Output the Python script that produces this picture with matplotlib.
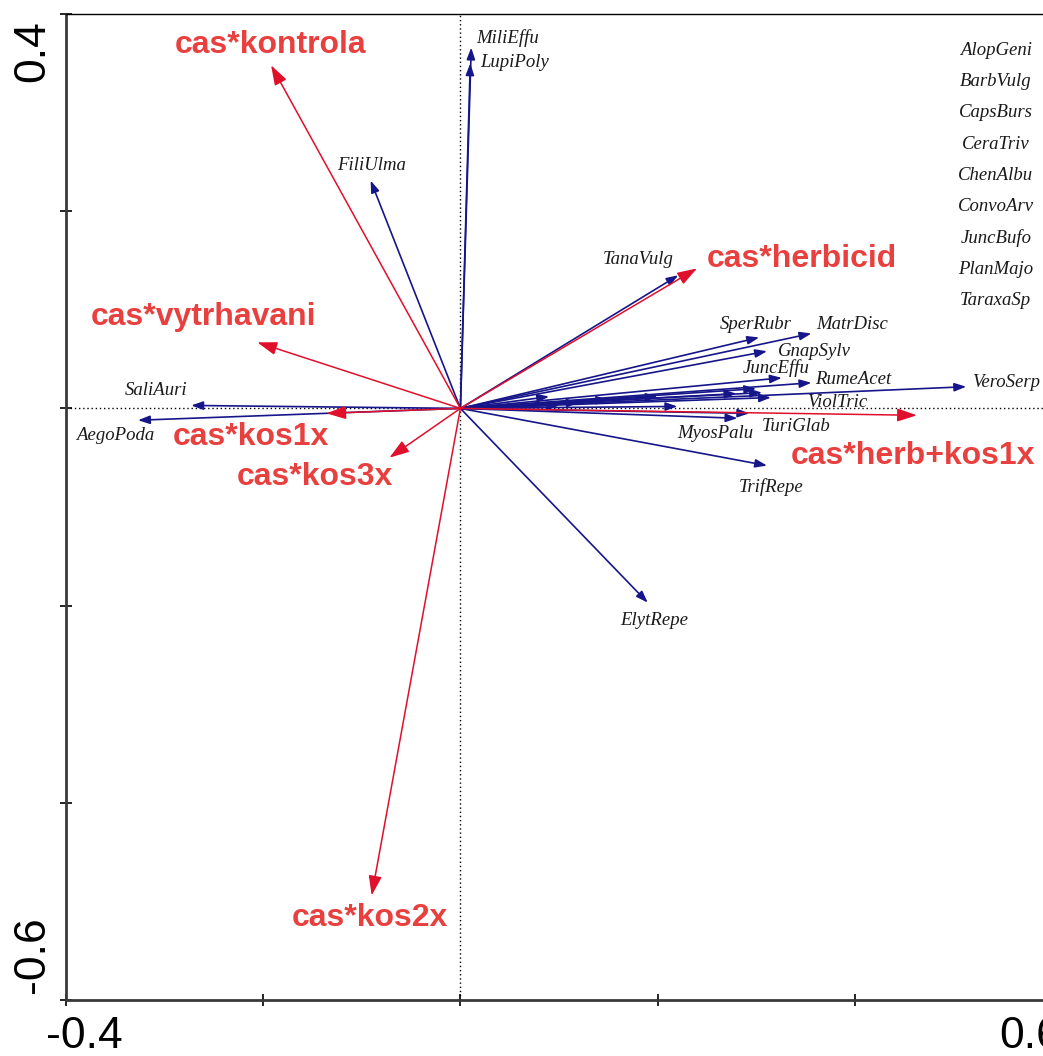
import matplotlib.pyplot as plt
from matplotlib.transforms import ScaledTranslation

plt.rcParams['axes.unicode_minus'] = False

# species arrows (tips)
species = ['MiliEffu', 'LupiPoly', 'FiliUlma', 'TanaVulg', 'SperRubr', 'MatrDisc',
           'GnapSylv', 'JuncEffu', 'RumeAcet', 'VeroSerp', 'ViolTric', 'MyosPalu',
           'TuriGlab', 'TrifRepe', 'ElytRepe', 'SaliAuri', 'AegoPoda']
sp_x = [0.011, 0.010, -0.091, 0.221, 0.303, 0.356, 0.311, 0.326, 0.356, 0.513,
        0.315, 0.281, 0.293, 0.311, 0.190, -0.273, -0.327]
sp_y = [0.366, 0.350, 0.231, 0.135, 0.072, 0.076, 0.058, 0.031, 0.026, 0.022,
        0.011, -0.010, -0.005, -0.058, -0.197, 0.003, -0.012]

# species with short arrows near the axis, named in the list at top right
crowded = ['AlopGeni', 'BarbVulg', 'CapsBurs', 'CeraTriv', 'ChenAlbu',
           'ConvoArv', 'JuncBufo', 'PlanMajo', 'TaraxaSp']
cr_x = [0.306, 0.120, 0.200, 0.100, 0.300, 0.150, 0.090, 0.280, 0.220]
cr_y = [0.016, 0.006, 0.012, 0.003, 0.020, 0.009, 0.012, 0.015, 0.002]

# environmental variables
env = ['cas*kontrola', 'cas*herbicid', 'cas*vytrhavani', 'cas*kos1x',
       'cas*kos3x', 'cas*kos2x', 'cas*herb+kos1x']
env_x = [-0.192, 0.240, -0.206, -0.136, -0.072, -0.090, 0.463]
env_y = [0.348, 0.142, 0.067, -0.005, -0.050, -0.494, -0.007]

# label placement (layout)
sp_lab = {'MiliEffu': (0.048, 0.376), 'LupiPoly': (0.055, 0.351),
          'FiliUlma': (-0.090, 0.246), 'TanaVulg': (0.180, 0.151),
          'SperRubr': (0.300, 0.085), 'MatrDisc': (0.397, 0.085),
          'GnapSylv': (0.359, 0.058), 'JuncEffu': (0.320, 0.041),
          'RumeAcet': (0.398, 0.029), 'VeroSerp': (0.553, 0.026),
          'ViolTric': (0.382, 0.006), 'MyosPalu': (0.258, -0.025),
          'TuriGlab': (0.341, -0.018), 'TrifRepe': (0.315, -0.080),
          'ElytRepe': (0.197, -0.215), 'SaliAuri': (-0.309, 0.018),
          'AegoPoda': (-0.350, -0.027)}
env_lab = {'cas*kontrola': (-0.193, 0.369), 'cas*herbicid': (0.346, 0.152),
           'cas*vytrhavani': (-0.261, 0.093), 'cas*kos1x': (-0.213, -0.029),
           'cas*kos3x': (-0.148, -0.070), 'cas*kos2x': (-0.092, -0.517),
           'cas*herb+kos1x': (0.459, -0.048)}

navy = '#16168a'
red_arrow = '#e0102c'
red_text = '#e8403f'

fig = plt.figure(figsize=(10.43, 10.56), dpi=100)
ax = fig.add_axes([66/1043, 56/1056, 986/1043, 986/1056])
ax.set_xlim(-0.4, 0.6)
ax.set_ylim(-0.6, 0.4)

ax.axhline(0, color='black', ls=(0, (1, 2)), lw=1, zorder=1)
ax.axvline(0, color='black', ls=(0, (1, 2)), lw=1, zorder=1)

blue_style = '-|>,head_length=0.7,head_width=0.25'
for x, y in zip(sp_x + cr_x, sp_y + cr_y):
    ax.annotate('', xy=(x, y), xytext=(0, 0),
                arrowprops=dict(arrowstyle=blue_style, color=navy, lw=1.2,
                                mutation_scale=10, shrinkA=0, shrinkB=0), zorder=2)

for name in species:
    lx, ly = sp_lab[name]
    ax.text(lx, ly, name, fontsize=13.5, family='Liberation Serif', style='italic',
            color='#1a1a1a', ha='center', va='center')

for i, name in enumerate(crowded):
    ax.text(0.543, 0.363 - i * 0.0317, name, fontsize=13.5, family='Liberation Serif',
            style='italic', color='#1a1a1a', ha='center', va='center')

red_style = '-|>,head_length=0.6,head_width=0.2'
for x, y in zip(env_x, env_y):
    ax.annotate('', xy=(x, y), xytext=(0, 0),
                arrowprops=dict(arrowstyle=red_style, color=red_arrow, lw=1.1,
                                mutation_scale=20, shrinkA=0, shrinkB=0), zorder=3)

for name in env:
    lx, ly = env_lab[name]
    ax.text(lx, ly, name, fontsize=23, family='Liberation Sans', weight='bold',
            color=red_text, ha='center', va='center')

# axes frame
for s in ['left', 'bottom']:
    ax.spines[s].set_linewidth(2)
    ax.spines[s].set_color('#3a3a3a')
ax.spines['top'].set_linewidth(1)

ax.set_xticks([-0.4, -0.2, 0, 0.2, 0.4, 0.6])
ax.set_xticklabels(['-0.4', '', '', '', '', '0.6'])
ax.set_yticks([-0.6, -0.4, -0.2, 0, 0.2, 0.4])
ax.set_yticklabels(['-0.6', '', '', '', '', '0.4'], rotation=90)
ax.tick_params(direction='inout', length=9, width=1.2, labelsize=32)
ax.tick_params(axis='x', pad=7)
ax.tick_params(axis='y', pad=5)
for lbl in ax.get_xticklabels() + ax.get_yticklabels():
    lbl.set_family('Liberation Sans')

xl = ax.get_xticklabels()
xl[0].set_ha('left')
xl[0].set_transform(xl[0].get_transform() + ScaledTranslation(-20/100, 0, fig.dpi_scale_trans))
xl[-1].set_ha('right')
xl[-1].set_transform(xl[-1].get_transform() + ScaledTranslation(9/100, 0, fig.dpi_scale_trans))
yl = ax.get_yticklabels()
yl[0].set_va('bottom')
yl[0].set_transform(yl[0].get_transform() + ScaledTranslation(0, 7/100, fig.dpi_scale_trans))
yl[-1].set_va('top')
yl[-1].set_transform(yl[-1].get_transform() + ScaledTranslation(0, -6/100, fig.dpi_scale_trans))

fig.savefig('out.png', dpi=100)
